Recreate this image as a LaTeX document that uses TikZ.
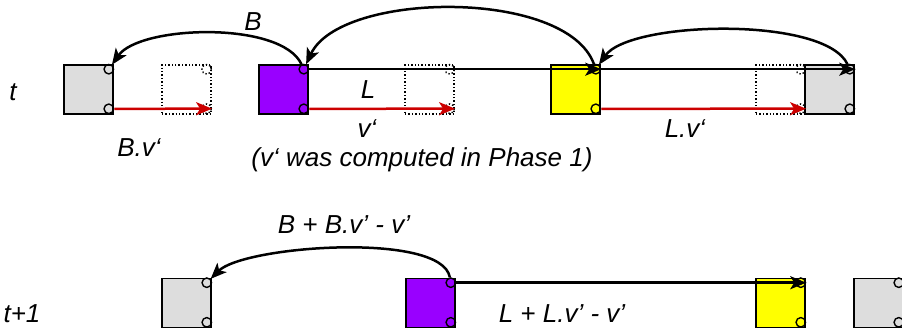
\documentclass[tikz,border=0pt]{standalone}
\usepackage{fontspec}
\setmainfont{Liberation Sans}
\usetikzlibrary{calc,arrows.meta}
\definecolor{cellgray}{RGB}{221,221,221}
\definecolor{cellpurple}{RGB}{153,0,255}
\definecolor{cellyellow}{RGB}{255,255,0}
\definecolor{moved}{RGB}{204,0,0}
\begin{document}
\begin{tikzpicture}[x=1pt, y=-1pt,
		cell/.style={draw, line width=1.6pt, minimum size=49pt, inner sep=0pt},
		ghost/.style={draw, dotted, line width=1.4pt, minimum size=49pt, inner sep=0pt},
		hole/.style={circle, draw, line width=1.4pt, minimum size=9.5pt, inner sep=0pt},
		lnk/.style={line width=2.5pt, -{Stealth[length=16pt, width=13pt, inset=4pt]}},
		mv/.style={lnk, moved},
		lbl/.style={font=\fontsize{26}{30}\selectfont\itshape, inner sep=0pt, anchor=base}]
		\useasboundingbox (0,0) rectangle (902,330);
		\clip (0,0) rectangle (902,330);
		% ghost cells
		\foreach \n/\x in {d1/186.5, d2/429.5, d3/780.5} {
			\node[ghost] (\n) at (\x,89.5) {};
			\node[hole, dotted] (\n-t) at ($(\n.north east)+(-5,5)$) {};
			\node[hole, dotted] (\n-b) at ($(\n.south east)+(-5,-6)$) {};
		}
		% cells
		\foreach \n/\x/\y/\c in {g1/88.5/89.5/cellgray, p1/283.5/89.5/cellpurple, y1/575.5/89.5/cellyellow, g2/829.5/89.5/cellgray, g3/186.5/303/cellgray, p3/430.5/303/cellpurple, y3/780.5/303/cellyellow, g4/878.5/303/cellgray} {
			\node[cell, fill=\c] (\n) at (\x,\y) {};
			\node[hole] (\n-t) at ($(\n.north east)+(-5,5)$) {};
			\node[hole] (\n-b) at ($(\n.south east)+(-5,-6)$) {};
		}
		% row t
		\draw[mv] (g1-b) -- (d1-b.east);
		\draw[mv] (p1-b) -- (d2-b.east);
		\draw[mv] (y1-b) -- (d3-b.east);
		\draw[lnk] (p1-t) -- (y1-t.east);
		\draw[lnk] (y1-t) -- (g2-t.east);
		\draw[lnk] (p1-t) to[out=115, in=55, looseness=0.65] (g1-t);
		\draw[lnk] (y1-t) to[out=110, in=65, looseness=0.72] (p1-t);
		\draw[lnk] (g2-t) to[out=115, in=55, looseness=0.55] (y1-t);
		\node[lbl] (tt) at (13,100) {t};
		\node[lbl] (lb) at (253,30) {B};
		\node[lbl] (ll) at (368,98) {L};
		\node[lbl] (lbv) at (139,156) {B.v‘};
		\node[lbl] (lv) at (367,137) {v‘};
		\node[lbl] (lnote) at (422,166) {(v‘ was computed in Phase 1)};
		\node[lbl] (llv) at (685,137) {L.v‘};
		% row t+1
		\draw[lnk] (p3-t) to[out=100, in=45, looseness=0.5] (g3-t);
		\draw[lnk] (p3-t) -- (y3-t.east);
		\node[lbl] (tn) at (22,322) {t+1};
		\node[lbl] (lbn) at (344,233) {B + B.v’ - v’};
		\node[lbl] (lln) at (562,322) {L + L.v’ - v’};
	\end{tikzpicture}
\end{document}
